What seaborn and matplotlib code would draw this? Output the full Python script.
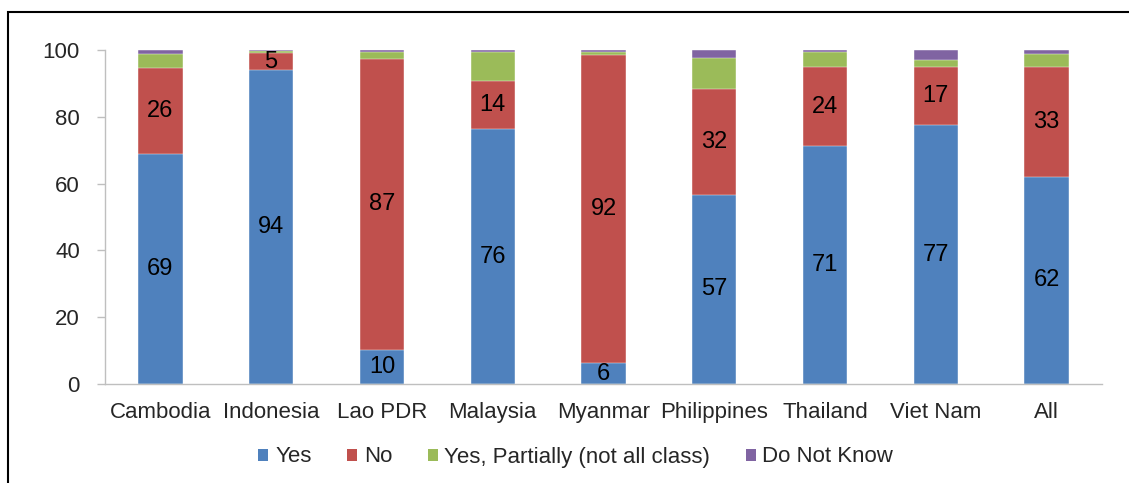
import matplotlib
matplotlib.use("Agg")
import matplotlib.pyplot as plt
import seaborn as sns
import numpy as np
import pandas as pd
from matplotlib.patches import Rectangle, Patch

countries = ["Cambodia", "Indonesia", "Lao PDR", "Malaysia", "Myanmar",
             "Philippines", "Thailand", "Viet Nam", "All"]
yes = [69, 94, 10.2, 76.3, 6.2, 56.6, 71.2, 77.4, 62]
no = [25.7, 5.1, 87.1, 14.3, 92.2, 31.6, 23.7, 17.4, 32.9]
partial = [4.1, 0.5, 2.2, 8.9, 1.0, 9.5, 4.6, 2.2, 4.0]
dont_know = [1.2, 0.4, 0.5, 0.5, 0.6, 2.3, 0.5, 3.0, 1.1]
series_names = ["Yes", "No", "Yes, Partially (not all class)", "Do Not Know"]
colors = ["#4F81BD", "#C0504D", "#9BBB59", "#8064A2"]

sns.set_theme(style="white")
plt.rcParams["font.family"] = ["Liberation Sans", "DejaVu Sans"]

df = pd.DataFrame({"country": countries, "Yes": yes, "No": no,
                   "Partial": partial, "DK": dont_know})
cols = ["Yes", "No", "Partial", "DK"]
cum = df[cols].cumsum(axis=1)

fig = plt.figure(figsize=(11.29, 4.83), dpi=100)
ax = fig.add_axes([105 / 1129, 1 - 384 / 483, (1102 - 105) / 1129, (384 - 50) / 483])

for col, color in reversed(list(zip(cols, colors))):
    sns.barplot(x=df["country"], y=cum[col], color=color, width=0.4,
                edgecolor="white", linewidth=0.3, saturation=1, ax=ax)

# data labels for Yes and No
for i in range(len(countries)):
    ax.text(i, yes[i] / 2, f"{yes[i]:.0f}", ha="center", va="center",
            fontsize=17, color="black")
    ax.text(i, yes[i] + no[i] / 2, f"{no[i]:.0f}", ha="center", va="center",
            fontsize=17, color="black")

ax.set_ylim(0, 100)
ax.set_xlim(-0.5, len(countries) - 0.5)
ax.set_yticks([0, 20, 40, 60, 80, 100])
ax.set_xlabel("")
ax.set_ylabel("")
for s in ["top", "right"]:
    ax.spines[s].set_visible(False)
for s in ["left", "bottom"]:
    ax.spines[s].set_color("#BFBFBF")
    ax.spines[s].set_linewidth(1.0)
ax.tick_params(axis="y", which="both", left=True, length=6, width=1,
               color="#BFBFBF", labelsize=16, pad=12)
ax.tick_params(axis="x", bottom=False, labelsize=16, pad=7)

handles = [Patch(facecolor=c, edgecolor="none") for c in colors]
fig.legend(handles, series_names, loc="center", bbox_to_anchor=(0.51, 1 - 457 / 483),
           ncol=4, frameon=False, fontsize=16, handlelength=0.45, handleheight=0.45,
           handletextpad=0.3, columnspacing=1.6)

top = 1 - 12 / 483
fig.add_artist(Rectangle((8 / 1129, -0.2), 1.2, top + 0.2,
                         transform=fig.transFigure, fill=False,
                         edgecolor="black", linewidth=1.5))

fig.savefig("out.png", dpi=100)
